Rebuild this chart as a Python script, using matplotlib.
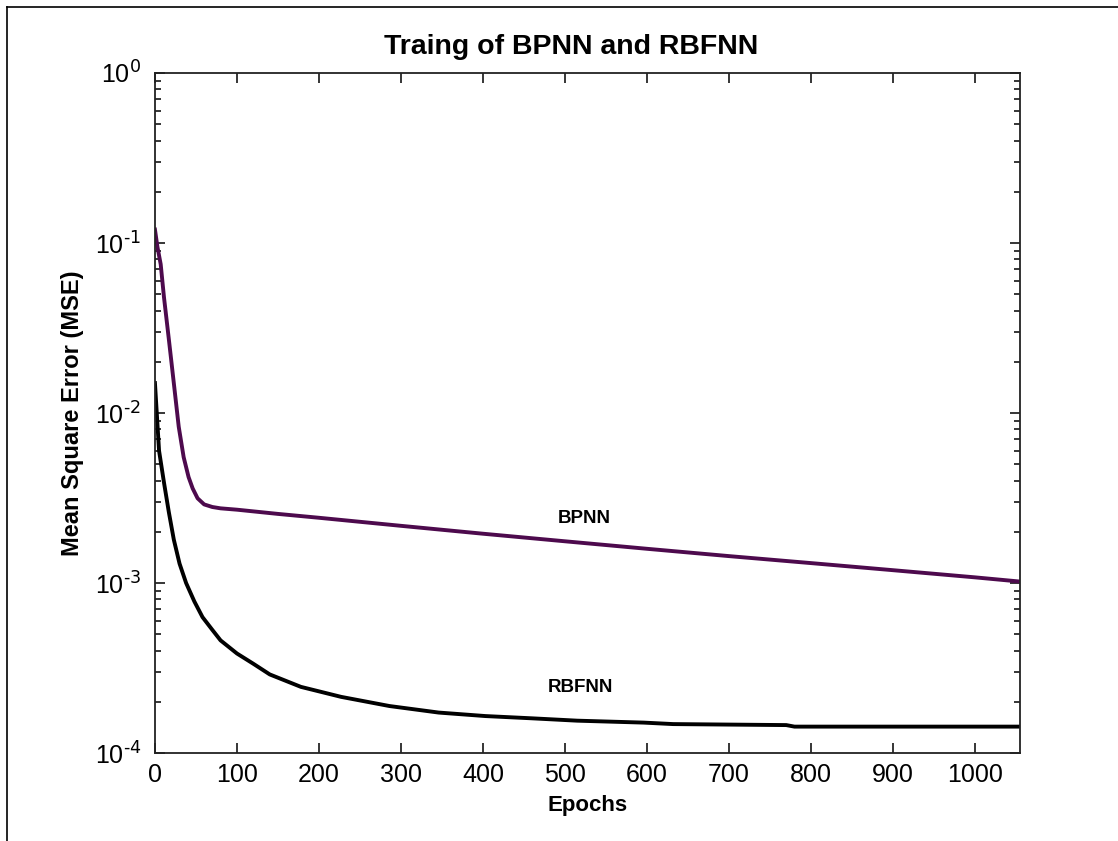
import math
import matplotlib
matplotlib.use("Agg")
import matplotlib.pyplot as plt
from matplotlib.ticker import FixedLocator, LogLocator, NullFormatter, FuncFormatter
from matplotlib.lines import Line2D

plt.rcParams['font.family'] = ['Liberation Sans', 'DejaVu Sans']
plt.rcParams['mathtext.default'] = 'regular'
plt.rcParams['axes.unicode_minus'] = False

# BPNN training curve (epochs, MSE)
bpnn_epochs = [0, 3, 7, 11, 17, 23, 29, 35, 41, 46, 52, 60, 70, 80, 100,
               150, 200, 300, 400, 500, 600, 700, 800, 900, 1000, 1055]
bpnn_mse = [0.12, 0.095, 0.075, 0.048, 0.027, 0.015, 8.3e-3, 5.5e-3, 4.2e-3, 3.6e-3,
            3.15e-3, 2.9e-3, 2.8e-3, 2.75e-3, 2.7e-3,
            2.55e-3, 2.42e-3, 2.17e-3, 1.95e-3, 1.76e-3, 1.59e-3, 1.44e-3, 1.31e-3,
            1.19e-3, 1.08e-3, 1.02e-3]

# RBFNN training curve
rbfnn_epochs = [0, 5, 11, 17, 23, 30, 38, 48, 58, 70, 80, 100, 120, 140, 178, 227,
                286, 346, 403, 460, 515, 596, 632, 700, 770, 780, 900, 1055]
rbfnn_mse = [0.015, 6.0e-3, 3.9e-3, 2.6e-3, 1.8e-3, 1.3e-3, 1.0e-3, 7.8e-4, 6.3e-4,
             5.3e-4, 4.6e-4, 3.85e-4, 3.35e-4, 2.9e-4, 2.45e-4, 2.14e-4,
             1.89e-4, 1.73e-4, 1.65e-4, 1.6e-4, 1.55e-4, 1.51e-4, 1.48e-4, 1.47e-4,
             1.46e-4, 1.43e-4, 1.43e-4, 1.43e-4]

x_ticks = [0, 100, 200, 300, 400, 500, 600, 700, 800, 900, 1000]
y_ticks = [1e-4, 1e-3, 1e-2, 1e-1, 1e0]


def log_label(v, pos):
    k = round(math.log10(v))
    # hyphen instead of the long mathtext minus
    return r"$10^{\text{%s}}$" % (("-%d" % -k) if k < 0 else "%d" % k)


fig = plt.figure(figsize=(11.18, 8.41), dpi=100)
ax = fig.add_axes([0.1386, 0.1046, 0.7737, 0.8086])

ax.plot(bpnn_epochs, bpnn_mse, color="#4d0a4d", lw=2.8)
ax.plot(rbfnn_epochs, rbfnn_mse, color="black", lw=2.8)

ax.set_yscale("log")
ax.set_xlim(0, 1055)
ax.set_ylim(1e-4, 1e0)
ax.xaxis.set_major_locator(FixedLocator(x_ticks))
ax.yaxis.set_major_locator(FixedLocator(y_ticks))
ax.yaxis.set_minor_locator(LogLocator(base=10, subs=range(2, 10)))
ax.yaxis.set_minor_formatter(NullFormatter())
ax.yaxis.set_major_formatter(FuncFormatter(log_label))

ax.tick_params(which="both", direction="in", top=True, right=True, width=1.1, colors="black")
ax.tick_params(which="major", length=7)
ax.tick_params(which="minor", length=4.5)
ax.tick_params(axis="x", labelsize=18, pad=7)
ax.tick_params(axis="y", labelsize=18, pad=10)
for s in ax.spines.values():
    s.set_linewidth(1.3)
    s.set_color("#222222")

ax.set_title("Traing of BPNN and RBFNN", fontsize=20.5, fontweight="bold", pad=14, x=0.481)
ax.set_xlabel("Epochs", fontsize=16, fontweight="bold")
ax.set_ylabel("Mean Square Error (MSE)", fontsize=17, fontweight="bold")
ax.xaxis.set_label_coords(0.5, -0.062)
ax.yaxis.set_label_coords(-0.082, 0.5)

ax.text(523, 2.41e-3, "BPNN", fontsize=13.5, fontweight="bold", ha="center", va="center")
ax.text(519, 2.44e-4, "RBFNN", fontsize=13.5, fontweight="bold", ha="center", va="center")

# outer frame (only left and top visible in the screenshot)
fig.add_artist(Line2D([6.5 / 1118, 6.5 / 1118], [0, 1 - 6.5 / 841], color="black", lw=1.2))
fig.add_artist(Line2D([6.5 / 1118, 1], [1 - 6.5 / 841, 1 - 6.5 / 841], color="black", lw=1.2))

fig.savefig("out.png", dpi=100)
